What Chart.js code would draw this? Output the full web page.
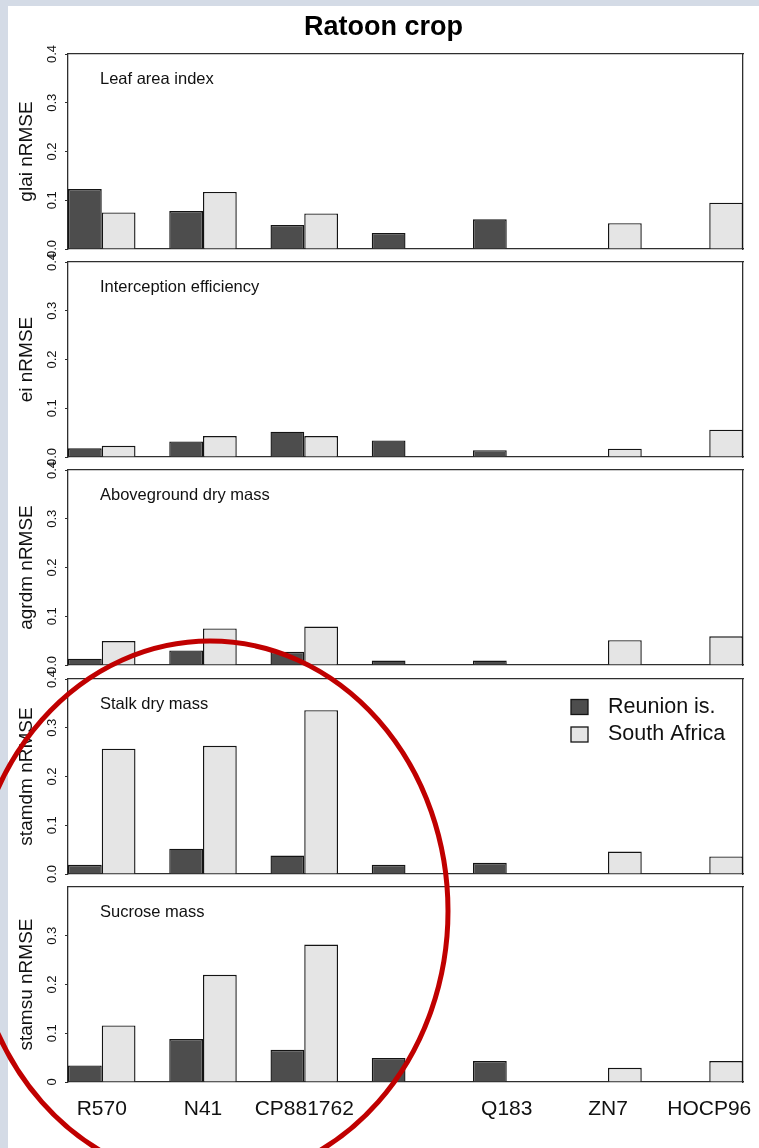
<!DOCTYPE html>
<html>
<head>
<meta charset="utf-8">
<script src="https://cdn.jsdelivr.net/npm/chart.js@4.4.1/dist/chart.umd.min.js"></script>
<style>
  html, body { margin: 0; padding: 0; }
  body { width: 759px; height: 1148px; background: #d4dbe6; position: relative; overflow: hidden; }
  #fig { position: absolute; left: 8px; top: 6px; width: 751px; height: 1142px; background: #ffffff; }
  canvas { position: absolute; left: 8px; }
  #ring { position: absolute; left: 0; top: 0; z-index: 10; pointer-events: none; }
</style>
</head>
<body>
<div id="fig"></div>
<svg id="ring" width="759" height="1148">
  <ellipse cx="210" cy="911" rx="238" ry="270" fill="none" stroke="#c00000" stroke-width="5"/>
</svg>
<script>
// ---- data ----------------------------------------------------------------
const categories = ['R570', 'N41', 'CP881762', '', 'Q183', 'ZN7', 'HOCP96'];
const seriesNames = ['Reunion is.', 'South Africa'];
const panelNames = ['Leaf area index', 'Interception efficiency', 'Aboveground dry mass', 'Stalk dry mass', 'Sucrose mass'];
const axisTitles = ['glai nRMSE', 'ei nRMSE', 'agrdm nRMSE', 'stamdm nRMSE', 'stamsu nRMSE'];
const yTickLabels = ['0.0', '0.1', '0.2', '0.3', '0.4'];
const yTickLabelsSucrose = ['0', '0.1', '0.2', '0.3'];

const glaiReunion        = [0.123, 0.078, 0.049, 0.033, 0.061, null, null];
const glaiSouthAfrica    = [0.075, 0.117, 0.073, null, null, 0.053, 0.095];
const eiReunion          = [0.018, 0.032, 0.052, 0.034, 0.014, null, null];
const eiSouthAfrica      = [0.023, 0.043, 0.043, null, null, 0.017, 0.056];
const agrdmReunion       = [0.013, 0.030, 0.027, 0.009, 0.009, null, null];
const agrdmSouthAfrica   = [0.049, 0.075, 0.079, null, null, 0.051, 0.059];
const stamdmReunion      = [0.019, 0.052, 0.038, 0.019, 0.023, null, null];
const stamdmSouthAfrica  = [0.257, 0.263, 0.336, null, null, 0.046, 0.036];
const stamsuReunion      = [0.034, 0.088, 0.066, 0.049, 0.043, null, null];
const stamsuSouthAfrica  = [0.116, 0.220, 0.282, null, null, 0.029, 0.043];

const reunionSeries = [glaiReunion, eiReunion, agrdmReunion, stamdmReunion, stamsuReunion];
const southAfricaSeries = [glaiSouthAfrica, eiSouthAfrica, agrdmSouthAfrica, stamdmSouthAfrica, stamsuSouthAfrica];

// ---- layout & style ------------------------------------------------------
const FONT = '"Liberation Sans", Arial, Helvetica, sans-serif';
Chart.defaults.font.family = FONT;
const INK = '#111111';
const AXIS = '#2e2e2e';
const DARK = '#4d4d4d';
const LIGHT = '#e5e5e5';
const EDGE = '#141414';

const panelTops = [54, 262, 470, 679, 887]; // page y of each plot frame
const PLOT_H = 195;
const PAGE_H = 1148;

// Bars sit in groups of two unit-wide slots, one empty slot between groups.
const groupCentres = categories.map((_, i) => 3 * i + 1);
const X_MAX = 3 * categories.length - 1;

const panelLabel = {
  id: 'panelLabel',
  afterDraw(chart, args, opts) {
    const { ctx, chartArea } = chart;
    ctx.save();
    ctx.font = '16.5px ' + FONT;
    ctx.fillStyle = INK;
    ctx.textBaseline = 'alphabetic';
    ctx.textAlign = 'left';
    ctx.fillText(opts.text, chartArea.left + 32, chartArea.top + 30);
    ctx.restore();
  }
};

const seriesKey = {
  id: 'seriesKey',
  afterDraw(chart, args, opts) {
    if (!opts.show) return;
    const { ctx, chartArea } = chart;
    ctx.save();
    chart.data.datasets.forEach((ds, k) => {
      const cy = chartArea.top + 28 + k * 27.5;
      const bx = chartArea.right - 172;
      ctx.fillStyle = ds.backgroundColor;
      ctx.fillRect(bx, cy - 7.5, 17, 15);
      ctx.strokeStyle = ds.borderColor;
      ctx.lineWidth = 1.3;
      ctx.strokeRect(bx, cy - 7.5, 17, 15);
      ctx.fillStyle = INK;
      ctx.font = '21.5px ' + FONT;
      ctx.textBaseline = 'middle';
      ctx.textAlign = 'left';
      ctx.fillText(ds.label, chartArea.right - 135, cy);
    });
    ctx.restore();
  }
};

function points(values) {
  return values.map((v, i) => ({ x: groupCentres[i], y: v }));
}

function noOverhang(s) {
  s.paddingLeft = 0; s.paddingRight = 0; s.paddingTop = 0; s.paddingBottom = 0;
}

function makePanel(i) {
  const first = i === 0;
  const last = i === panelTops.length - 1;
  const canvasTop = first ? 6 : panelTops[i] - 14;
  const titleH = first ? 48 : 0;
  const headH = first ? 0 : 14;
  const footH = last ? PAGE_H - (panelTops[i] + PLOT_H) : 14;
  const tickLabels = last ? yTickLabelsSucrose : yTickLabels;

  const canvas = document.createElement('canvas');
  canvas.width = 751;
  canvas.height = titleH + headH + PLOT_H + footH;
  canvas.style.top = canvasTop + 'px';
  document.body.insertBefore(canvas, document.getElementById('ring'));

  new Chart(canvas, {
    type: 'bar',
    data: {
      datasets: [
        { label: seriesNames[0], data: points(reunionSeries[i]), backgroundColor: DARK, borderColor: EDGE, borderWidth: 1.4, xAxisID: 'x', yAxisID: 'y' },
        { label: seriesNames[1], data: points(southAfricaSeries[i]), backgroundColor: LIGHT, borderColor: EDGE, borderWidth: 1.4, xAxisID: 'x', yAxisID: 'y' }
      ]
    },
    options: {
      responsive: false,
      animation: false,
      events: [],
      layout: { padding: 0 },
      datasets: { bar: { categoryPercentage: 2 / 3, barPercentage: 1 } },
      plugins: {
        legend: { display: false },
        tooltip: { enabled: false },
        title: {
          display: first,
          text: 'Ratoon crop',
          color: '#000000',
          font: { size: 27, weight: 'bold', family: FONT },
          padding: { top: 5.4, bottom: 10.2 }
        },
        panelLabel: { text: panelNames[i] },
        seriesKey: { show: i === 3 }
      },
      scales: {
        x: {
          type: 'linear', axis: 'x', position: 'bottom',
          min: 0, max: X_MAX, offset: false,
          grid: { display: false, drawTicks: false },
          border: { display: true, color: AXIS, width: 1.3 },
          ticks: {
            display: last, autoSkip: false, minRotation: 0, maxRotation: 0,
            padding: 15, color: INK, font: { size: 21 },
            callback: (v, idx) => categories[idx]
          },
          afterBuildTicks: s => { s.ticks = groupCentres.map(v => ({ value: v })); },
          afterFit: s => { s.height = footH; noOverhang(s); }
        },
        xTop: {
          type: 'linear', axis: 'x', position: 'top',
          grid: { display: false, drawTicks: false },
          ticks: { display: false },
          border: { display: true, color: AXIS, width: 1.3 },
          afterFit: s => { s.height = headH; noOverhang(s); }
        },
        y: {
          type: 'linear', axis: 'y', position: 'left',
          min: 0, max: 0.4,
          grid: { display: true, drawOnChartArea: false, drawTicks: true, tickLength: 3, color: AXIS, lineWidth: 1 },
          border: { display: true, color: AXIS, width: 1.3 },
          ticks: {
            padding: 4, minRotation: 90, maxRotation: 90, crossAlign: 'center',
            color: INK, font: { size: 13 },
            callback: (v, idx) => tickLabels[idx]
          },
          afterBuildTicks: s => { s.ticks = tickLabels.map(t => ({ value: parseFloat(t) })); },
          title: {
            display: true, text: axisTitles[i], color: INK,
            font: { size: 19 }, padding: { top: 7.3, bottom: 0 }
          },
          afterFit: s => { s.width = 60; noOverhang(s); }
        },
        yRight: {
          type: 'linear', axis: 'y', position: 'right',
          grid: { display: false, drawTicks: false },
          ticks: { display: false },
          border: { display: true, color: AXIS, width: 1.3 },
          afterFit: s => { s.width = 16; noOverhang(s); }
        }
      }
    },
    plugins: [panelLabel, seriesKey]
  });
}

panelTops.forEach((_, i) => makePanel(i));
</script>
</body>
</html>
